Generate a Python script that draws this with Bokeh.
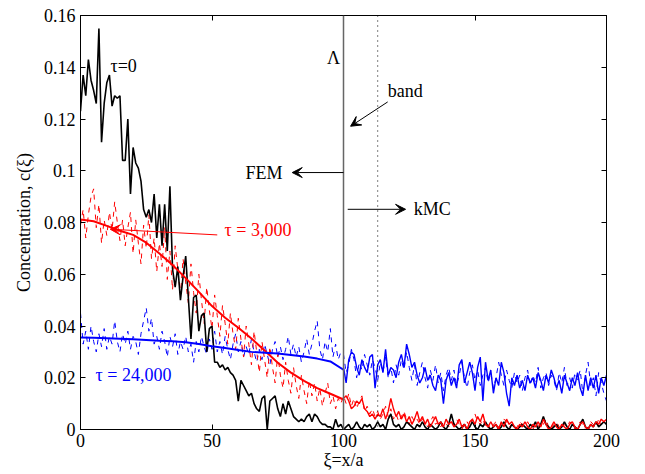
from bokeh.plotting import figure
from bokeh.models import Range1d, LinearAxis, FixedTicker, CustomJSTickFormatter, Span, Label, Arrow, VeeHead
from bokeh.embed import file_html
from bokeh.resources import INLINE

FONT = "'Liberation Serif', 'Times New Roman', serif"

xi_full = list(range(0, 201))
xi_kmc = list(range(100, 201))
xi_fem = list(range(0, 101, 5))

tau0 = [
    0.123, 0.137, 0.129, 0.143, 0.135, 0.131, 0.126, 0.155, 0.111, 0.126,
    0.134, 0.137, 0.125, 0.129, 0.128, 0.129, 0.104, 0.104, 0.120, 0.091,
    0.109, 0.103, 0.101, 0.096, 0.085, 0.082, 0.085, 0.080, 0.091, 0.074,
    0.087, 0.071, 0.087, 0.069, 0.094, 0.062, 0.055, 0.063, 0.050, 0.059,
    0.067, 0.051, 0.035, 0.051, 0.052, 0.038, 0.044, 0.045, 0.030, 0.039,
    0.040, 0.026, 0.026, 0.024, 0.025, 0.023, 0.024, 0.022, 0.021, 0.019,
    0.011, 0.019, 0.017, 0.015, 0.013, 0.014, 0.010, 0.008, 0.007, 0.012,
    0.013, 0.000, 0.011, 0.012, 0.013, 0.008, 0.005, 0.010, 0.006, 0.011,
    0.008, 0.005, 0.004, 0.003, 0.004, 0.003, 0.005, 0.006, 0.003, 0.006,
    0.005, 0.003, 0.002, 0.002, 0.001, 0.001, 0.000, 0.004, 0.001, 0.002,
    0.000, 0.001, 0.002, 0.000, 0.001, 0.003, 0.001, 0.000, 0.002, 0.001,
    0.002, 0.000, 0.001, 0.003, 0.001, 0.002, 0.000, 0.004, 0.006, 0.002,
    0.001, 0.002, 0.000, 0.001, 0.003, 0.002, 0.001, 0.000, 0.002, 0.001,
    0.003, 0.001, 0.000, 0.002, 0.001, 0.000, 0.001, 0.003, 0.001, 0.000,
    0.002, 0.006, 0.002, 0.001, 0.000, 0.001, 0.002, 0.000, 0.001, 0.003,
    0.001, 0.000, 0.002, 0.001, 0.003, 0.001, 0.000, 0.001, 0.002, 0.000,
    0.001, 0.003, 0.001, 0.000, 0.002, 0.001, 0.000, 0.001, 0.002, 0.001,
    0.000, 0.002, 0.001, 0.003, 0.000, 0.002, 0.005, 0.002, 0.001, 0.000,
    0.001, 0.002, 0.000, 0.001, 0.003, 0.001, 0.000, 0.002, 0.001, 0.000,
    0.002, 0.004, 0.001, 0.000, 0.002, 0.001, 0.003, 0.001, 0.002, 0.003,
    0.002,
]

red_kmc_dash = [
    0.079, 0.085, 0.074, 0.083, 0.090, 0.093, 0.078, 0.087, 0.072, 0.081,
    0.075, 0.084, 0.077, 0.088, 0.080, 0.073, 0.081, 0.071, 0.078, 0.084,
    0.068, 0.081, 0.072, 0.064, 0.079, 0.070, 0.083, 0.066, 0.074, 0.061,
    0.072, 0.063, 0.078, 0.058, 0.069, 0.054, 0.071, 0.062, 0.052, 0.066,
    0.057, 0.049, 0.064, 0.053, 0.045, 0.060, 0.050, 0.041, 0.055, 0.046,
    0.039, 0.052, 0.044, 0.036, 0.048, 0.041, 0.033, 0.045, 0.037, 0.031,
    0.043, 0.035, 0.028, 0.040, 0.033, 0.025, 0.038, 0.030, 0.022, 0.034,
    0.027, 0.020, 0.032, 0.024, 0.018, 0.029, 0.021, 0.016, 0.026, 0.019,
    0.014, 0.024, 0.017, 0.012, 0.021, 0.015, 0.010, 0.019, 0.013, 0.018,
    0.011, 0.016, 0.009, 0.014, 0.018, 0.010, 0.013, 0.008, 0.012, 0.010,
    0.013, 0.010, 0.014, 0.009, 0.012, 0.008, 0.011, 0.013, 0.007, 0.009,
    0.006, 0.008, 0.005, 0.007, 0.004, 0.006, 0.009, 0.005, 0.008, 0.004,
    0.006, 0.003, 0.005, 0.007, 0.004, 0.002, 0.005, 0.003, 0.004, 0.002,
    0.004, 0.003, 0.001, 0.003, 0.005, 0.002, 0.003, 0.001, 0.003, 0.002,
    0.001, 0.003, 0.002, 0.004, 0.002, 0.000, 0.002, 0.003, 0.001, 0.004,
    0.006, 0.003, 0.002, 0.004, 0.001, 0.002, 0.000, 0.002, 0.003, 0.001,
    0.002, 0.004, 0.003, 0.001, 0.002, 0.000, 0.001, 0.003, 0.002, 0.001,
    0.003, 0.001, 0.000, 0.002, 0.001, 0.003, 0.002, 0.004, 0.001, 0.000,
    0.002, 0.003, 0.001, 0.000, 0.002, 0.001, 0.003, 0.002, 0.000, 0.001,
    0.003, 0.002, 0.000, 0.001, 0.003, 0.002, 0.001, 0.004, 0.002, 0.003,
    0.004,
]

red_hybrid = [
    0.012, 0.013, 0.011, 0.008, 0.009, 0.011, 0.010, 0.012, 0.008, 0.007,
    0.005, 0.006, 0.004, 0.006, 0.005, 0.008, 0.004, 0.007, 0.012, 0.008,
    0.005, 0.007, 0.004, 0.006, 0.003, 0.005, 0.002, 0.004, 0.007, 0.003,
    0.005, 0.002, 0.004, 0.001, 0.003, 0.005, 0.002, 0.003, 0.001, 0.004,
    0.002, 0.003, 0.001, 0.002, 0.004, 0.001, 0.002, 0.000, 0.003, 0.004,
    0.002, 0.005, 0.003, 0.006, 0.002, 0.001, 0.003, 0.001, 0.002, 0.000,
    0.003, 0.001, 0.004, 0.002, 0.003, 0.001, 0.000, 0.002, 0.001, 0.003,
    0.001, 0.000, 0.002, 0.001, 0.003, 0.001, 0.004, 0.002, 0.000, 0.001,
    0.003, 0.001, 0.000, 0.002, 0.001, 0.000, 0.002, 0.003, 0.001, 0.000,
    0.002, 0.003, 0.001, 0.000, 0.002, 0.001, 0.003, 0.002, 0.004, 0.003,
    0.004,
]

red_fem = [0.0812, 0.0805, 0.0787, 0.0768, 0.0752, 0.0722, 0.0680, 0.0636, 0.0585, 0.0532, 0.0477,
           0.0432, 0.0393, 0.0352, 0.0305, 0.0258, 0.0220, 0.0188, 0.0160, 0.0138, 0.0116]

blue_kmc_dash = [
    0.045, 0.033, 0.038, 0.031, 0.040, 0.034, 0.030, 0.037, 0.032, 0.039,
    0.031, 0.036, 0.033, 0.042, 0.034, 0.030, 0.037, 0.033, 0.038, 0.031,
    0.036, 0.034, 0.029, 0.037, 0.042, 0.047, 0.038, 0.043, 0.033, 0.036,
    0.031, 0.038, 0.034, 0.028, 0.036, 0.032, 0.037, 0.029, 0.034, 0.031,
    0.036, 0.030, 0.033, 0.026, 0.034, 0.030, 0.036, 0.032, 0.029, 0.035,
    0.031, 0.038, 0.030, 0.034, 0.029, 0.036, 0.031, 0.027, 0.033, 0.037,
    0.030, 0.034, 0.028, 0.032, 0.029, 0.035, 0.030, 0.026, 0.031, 0.027,
    0.033, 0.029, 0.025, 0.031, 0.034, 0.028, 0.032, 0.027, 0.031, 0.036,
    0.029, 0.033, 0.028, 0.032, 0.026, 0.030, 0.035, 0.029, 0.033, 0.038,
    0.042, 0.031, 0.027, 0.034, 0.030, 0.039, 0.028, 0.033, 0.027, 0.030,
    0.029, 0.022, 0.025, 0.031, 0.027, 0.020, 0.026, 0.023, 0.029, 0.025,
    0.021, 0.027, 0.024, 0.019, 0.026, 0.022, 0.028, 0.020, 0.024, 0.018,
    0.025, 0.021, 0.027, 0.023, 0.030, 0.024, 0.019, 0.025, 0.017, 0.022,
    0.026, 0.020, 0.016, 0.023, 0.019, 0.025, 0.018, 0.022, 0.015, 0.021,
    0.024, 0.019, 0.023, 0.017, 0.021, 0.026, 0.020, 0.016, 0.022, 0.025,
    0.019, 0.023, 0.017, 0.021, 0.024, 0.018, 0.022, 0.016, 0.020, 0.026,
    0.021, 0.017, 0.023, 0.019, 0.016, 0.022, 0.018, 0.021, 0.015, 0.020,
    0.023, 0.017, 0.021, 0.018, 0.024, 0.016, 0.020, 0.022, 0.017, 0.021,
    0.019, 0.015, 0.022, 0.018, 0.024, 0.017, 0.020, 0.016, 0.022, 0.019,
    0.023, 0.014, 0.021, 0.026, 0.017, 0.020, 0.013, 0.022, 0.018, 0.014,
    0.011,
]

blue_hybrid = [
    0.024, 0.018, 0.027, 0.030, 0.029, 0.024, 0.021, 0.027, 0.024, 0.022,
    0.028, 0.029, 0.016, 0.025, 0.027, 0.022, 0.031, 0.021, 0.024, 0.023,
    0.020, 0.026, 0.029, 0.024, 0.033, 0.029, 0.024, 0.026, 0.021, 0.018,
    0.020, 0.024, 0.019, 0.021, 0.017, 0.015, 0.021, 0.019, 0.010, 0.019,
    0.022, 0.017, 0.020, 0.016, 0.025, 0.027, 0.018, 0.022, 0.026, 0.022,
    0.015, 0.024, 0.028, 0.011, 0.026, 0.019, 0.023, 0.014, 0.020, 0.017,
    0.026, 0.022, 0.014, 0.009, 0.020, 0.017, 0.021, 0.016, 0.019, 0.015,
    0.021, 0.018, 0.020, 0.016, 0.022, 0.019, 0.015, 0.021, 0.018, 0.023,
    0.020, 0.016, 0.019, 0.014, 0.021, 0.018, 0.015, 0.020, 0.017, 0.022,
    0.016, 0.013, 0.021, 0.015, 0.020, 0.016, 0.021, 0.014, 0.020, 0.017,
    0.021,
]

blue_fem = [0.0356, 0.0355, 0.0353, 0.0351, 0.0349, 0.0346, 0.0343, 0.0341, 0.0337, 0.0330, 0.0322,
            0.0315, 0.0307, 0.0300, 0.0297, 0.0294, 0.0288, 0.0282, 0.0274, 0.0263, 0.0231]

x_ticks = [0, 50, 100, 150, 200]
y_ticks = [0, 0.02, 0.04, 0.06, 0.08, 0.1, 0.12, 0.14, 0.16]

interface_x = 100
band_x = 113

p = figure(width=640, height=472, output_backend="svg", toolbar_location=None,
           x_range=Range1d(0, 200), y_range=Range1d(0, 0.16),
           min_border_left=80, min_border_right=34, min_border_top=15, min_border_bottom=42,
           x_axis_label="ξ=x/a", y_axis_label="Concentration, c(ξ)")
p.grid.visible = False
p.outline_line_color = "black"
p.outline_line_width = 1
p.background_fill_color = "white"
p.border_fill_color = "white"

fmt = CustomJSTickFormatter(code="return String(Number(tick.toFixed(2)));")
blank = CustomJSTickFormatter(code="return '';")

for ax in p.xaxis:
    ax.ticker = FixedTicker(ticks=x_ticks)
for ax in p.yaxis:
    ax.ticker = FixedTicker(ticks=y_ticks)
    ax.formatter = fmt

for ax in list(p.xaxis) + list(p.yaxis):
    ax.major_tick_in = 5
    ax.major_tick_out = 0
    ax.minor_tick_line_color = None
    ax.axis_line_color = "black"
    ax.major_label_text_font = FONT
    ax.major_label_text_font_size = "18px"
    ax.major_label_text_color = "black"
    ax.axis_label_text_font = FONT
    ax.axis_label_text_font_size = "18px"
    ax.axis_label_text_font_style = "normal"
    ax.axis_label_text_color = "black"
p.xaxis.major_label_standoff = 4
p.xaxis.axis_label_standoff = 0
p.yaxis.major_label_standoff = 5
p.yaxis.axis_label_standoff = 7

top = LinearAxis(ticker=FixedTicker(ticks=x_ticks), formatter=blank, major_label_text_font_size="1px",
                 major_tick_in=5, major_tick_out=0, minor_tick_line_color=None, major_label_standoff=0)
right = LinearAxis(ticker=FixedTicker(ticks=y_ticks), formatter=blank, major_label_text_font_size="1px",
                   major_tick_in=5, major_tick_out=0, minor_tick_line_color=None, major_label_standoff=0)
p.add_layout(top, "above")
p.add_layout(right, "right")

# data
p.line(xi_full, blue_kmc_dash, color="#0000ff", line_width=1, line_dash="5 5")
p.line(xi_full, red_kmc_dash, color="#ff0000", line_width=1, line_dash="5 5")
p.line(xi_full, tau0, color="black", line_width=1.6)
p.line(xi_kmc, red_hybrid, color="#ff0000", line_width=1.4)
p.line(xi_kmc, blue_hybrid, color="#0000ff", line_width=1.4)
p.line(xi_fem, red_fem, color="#ff0000", line_width=2)
p.line(xi_fem, blue_fem, color="#0000ff", line_width=2)

p.add_layout(Span(location=interface_x, dimension="height", line_color="#666666", line_width=1.5))
p.add_layout(Span(location=band_x, dimension="height", line_color="black", line_width=1, line_dash="1 4"))

def lab(x, y, t, color="black", align="left"):
    p.add_layout(Label(x=x, y=y, text=t, text_font=FONT, text_font_size="18px",
                       text_color=color, text_baseline="middle", text_align=align))

lab(11.4, 0.1403, "τ=0")
lab(54.8, 0.0771, "τ = 3,000", "#ff0000")
lab(5.7, 0.0212, "τ = 24,000", "#0000ff")
lab(96.2, 0.1436, "Λ", "black", "center")
lab(116.8, 0.131, "band")
lab(62.7, 0.0993, "FEM")
lab(126.7, 0.0852, "kMC")

def arrow(x0, y0, x1, y1, color="black"):
    p.add_layout(Arrow(end=VeeHead(size=10, line_color=color, fill_color=color, line_width=1),
                       x_start=x0, y_start=y0, x_end=x1, y_end=y1,
                       line_color=color, line_width=1))

arrow(52.0, 0.0752, 11.3, 0.0774, "#ff0000")
arrow(116.8, 0.1266, 102.7, 0.1172)
arrow(100, 0.0993, 80.5, 0.0993)
arrow(101.6, 0.0851, 123.6, 0.0851)

open("out.html", "w").write(file_html(p, INLINE))
